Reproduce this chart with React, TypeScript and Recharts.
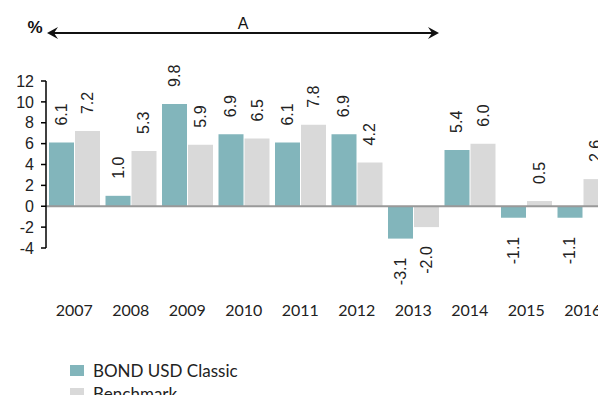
import React from 'react';
import {
  BarChart,
  Bar,
  XAxis,
  YAxis,
  ReferenceLine,
  LabelList,
} from 'recharts';

const years = ['2007', '2008', '2009', '2010', '2011', '2012', '2013', '2014', '2015', '2016'];
const fundValues = [6.1, 1.0, 9.8, 6.9, 6.1, 6.9, -3.1, 5.4, -1.1, -1.1];
const benchmarkValues = [7.2, 5.3, 5.9, 6.5, 7.8, 4.2, -2.0, 6.0, 0.5, 2.6];
const yTicks = [-4, -2, 0, 2, 4, 6, 8, 10, 12];
const seriesNames = ['BOND USD Classic', 'Benchmark'];

const FUND_COLOR = '#82b5bb';
const BENCH_COLOR = '#d9d9d9';
const TEXT_FONT = 'Lato, "Open Sans", sans-serif';
const NUM_FONT = '"Liberation Sans", Arial, sans-serif';

const chartData = years.map((year, i) => ({
  year,
  fund: fundValues[i],
  bench: benchmarkValues[i],
}));

// rotated value label, above positive bars and below negative ones
function ValueLabel(props: any) {
  const box = props.viewBox || props;
  const { x, y, width, height } = box;
  const value = Number(props.value);
  const cx = x + width / 2;
  const top = Math.min(y, y + height);
  const bottom = Math.max(y, y + height);
  const ay = value >= 0 ? top - 17 : bottom + 19;
  return (
    <text
      x={cx}
      y={ay}
      transform={`rotate(-90, ${cx}, ${ay})`}
      textAnchor={value >= 0 ? 'start' : 'end'}
      dominantBaseline="central"
      fontFamily={NUM_FONT}
      fontSize={16}
      fill="#222"
    >
      {value.toFixed(1)}
    </text>
  );
}

function YearTick({ x, y, payload }: any) {
  return (
    <text x={x} y={y + 68} textAnchor="middle" fontFamily={TEXT_FONT} fontSize={16} fill="#222">
      {payload.value}
    </text>
  );
}

export default function App() {
  const legendColors = [FUND_COLOR, BENCH_COLOR];
  return (
    <div style={{ margin: -8, width: 606, height: 403, overflow: 'hidden', position: 'relative', background: '#fff' }}>
      <BarChart
        width={616}
        height={403}
        data={chartData}
        margin={{ top: 81, right: 5, bottom: 95, left: 0 }}
        barCategoryGap={3}
        barGap={1}
      >
        <XAxis dataKey="year" axisLine={false} tickLine={false} tickSize={0} tickMargin={0} height={60} tick={<YearTick />} interval={0} />
        <YAxis
          width={46}
          domain={[-4, 12]}
          ticks={yTicks}
          interval={0}
          axisLine={{ stroke: '#000', strokeWidth: 1.5 }}
          tickLine={{ stroke: '#000', strokeWidth: 1.5 }}
          tickSize={5}
          tickMargin={7}
          tick={{ fontFamily: NUM_FONT, fontSize: 16, fill: '#222' }}
        />
        <Bar dataKey="fund" name={seriesNames[0]} fill={FUND_COLOR} isAnimationActive={false}>
          <LabelList dataKey="fund" content={<ValueLabel />} />
        </Bar>
        <Bar dataKey="bench" name={seriesNames[1]} fill={BENCH_COLOR} isAnimationActive={false}>
          <LabelList dataKey="bench" content={<ValueLabel />} />
        </Bar>
        <ReferenceLine y={0} stroke="#999" strokeWidth={2} />
      </BarChart>
      <svg width={606} height={60} style={{ position: 'absolute', left: 0, top: 0 }}>
        <text x={35} y={33} textAnchor="middle" fontFamily={NUM_FONT} fontWeight="bold" fontSize={17} fill="#111">
          %
        </text>
        <line x1={50} y1={33} x2={436} y2={33} stroke="#111" strokeWidth={2} />
        <path d="M47,33 L58,27 L54,33 L58,39 Z" fill="#111" />
        <path d="M439,33 L428,27 L432,33 L428,39 Z" fill="#111" />
        <text x={243} y={29} textAnchor="middle" fontFamily={NUM_FONT} fontSize={16} fill="#111">
          A
        </text>
      </svg>
      <div style={{ position: 'absolute', left: 70, top: 359, fontFamily: TEXT_FONT, fontSize: 17, lineHeight: '20px', color: '#222' }}>
        {seriesNames.map((name, i) => (
          <div key={name} style={{ display: 'flex', alignItems: 'center', height: 23 }}>
            <span style={{ display: 'inline-block', width: 14, height: 11, background: legendColors[i], marginRight: 9 }} />
            <span>{name}</span>
          </div>
        ))}
      </div>
    </div>
  );
}
